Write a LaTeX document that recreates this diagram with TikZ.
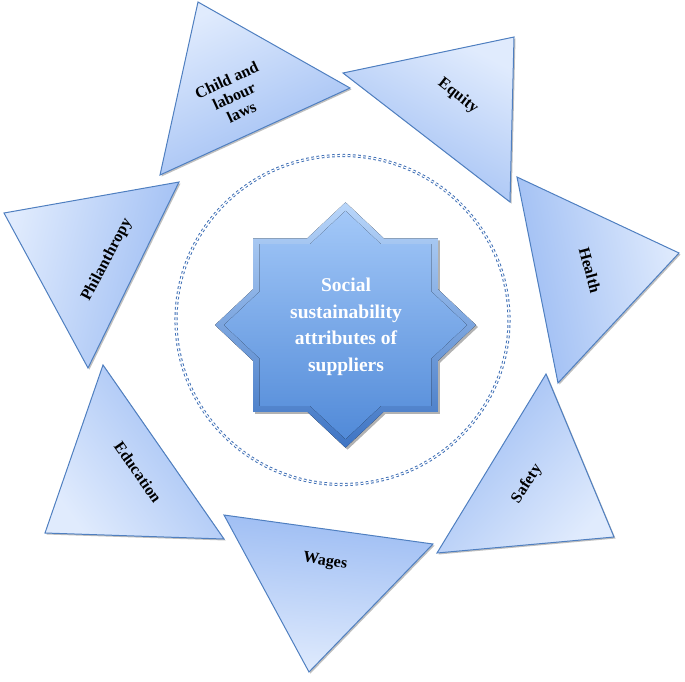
\documentclass[tikz,border=0pt]{standalone}
\usepackage{fontspec}
\setmainfont{Liberation Serif}
\usetikzlibrary{shadows}
\definecolor{tribord}{HTML}{4F7FC0}
\definecolor{trilight}{HTML}{E0EBFD}
\definecolor{tridark}{HTML}{9CBCF3}
\definecolor{circblue}{HTML}{3F6FB5}
\definecolor{starlt}{HTML}{B9D6FA}
\definecolor{stardk}{HTML}{3E74C3}
\definecolor{starinlt}{HTML}{A3C8F8}
\definecolor{starindk}{HTML}{518AD8}
\begin{document}
\begin{tikzpicture}[x=1pt,y=-1pt,
  tri/.style={draw=tribord, line width=1pt, line join=miter, top color=trilight, bottom color=tridark,
    drop shadow={shadow xshift=1.5pt, shadow yshift=-1.5pt, opacity=0.25, fill=black}},
  lbl/.style={font=\bfseries\fontsize{16}{17.5}\selectfont, align=center, text=black, inner sep=0pt},
  startext/.style={font=\bfseries\fontsize{19.5}{26.5}\selectfont, align=center, text=white, inner sep=0pt},
  ring/.style={draw=circblue, line width=1pt, double=white, double distance=1.1pt, dash pattern=on 2.6pt off 2.6pt}
]
\useasboundingbox (0,0) rectangle (685,681);

% dashed double ring
\draw[ring] (342.5,320) ellipse (166.5 and 164.5);

% triangles
\coordinate (c1) at (198,2);   \coordinate (c2) at (160,175); \coordinate (c3) at (350,88);
\coordinate (e1) at (343,73);  \coordinate (e2) at (514,37);  \coordinate (e3) at (510,202);
\coordinate (h1) at (517,177); \coordinate (h2) at (679,253); \coordinate (h3) at (558,383);
\coordinate (s1) at (546,374); \coordinate (s2) at (614,537); \coordinate (s3) at (437,553);
\coordinate (w1) at (224,515); \coordinate (w2) at (433,544); \coordinate (w3) at (309,672);
\coordinate (d1) at (103,365); \coordinate (d2) at (224,539); \coordinate (d3) at (45,533);
\coordinate (p1) at (4,213);   \coordinate (p2) at (179,182); \coordinate (p3) at (88,368);

\path[tri, shading angle=25]   (c1) -- (c3) -- (c2) -- cycle;
\path[tri, shading angle=-28]  (e1) -- (e2) -- (e3) -- cycle;
\path[tri, shading angle=-79]  (h1) -- (h2) -- (h3) -- cycle;
\path[tri, shading angle=-132] (s1) -- (s2) -- (s3) -- cycle;
\path[tri, shading angle=175]  (w1) -- (w2) -- (w3) -- cycle;
\path[tri, shading angle=126]  (d1) -- (d2) -- (d3) -- cycle;
\path[tri, shading angle=76]   (p1) -- (p2) -- (p3) -- cycle;

% labels
\node[lbl, rotate=25]  (tchild) at (234,96)  {Child and\\labour\\laws};
\node[lbl, rotate=-38] (tequity) at (458,96) {Equity};
\node[lbl, rotate=-75] (thealth) at (590,270) {Health};
\node[lbl, rotate=57]  (tsafety) at (527,484) {Safety};
\node[lbl, rotate=-9]  (twages) at (325,562) {Wages};
\node[lbl, rotate=-55] (tedu) at (138,472) {Education};
\node[lbl, rotate=62]  (tphil) at (107,260) {Philanthropy};

% central star
\begin{scope}[shift={(345.5,325)}, yscale=0.94]
  \fill[top color=starlt, bottom color=stardk,
    drop shadow={shadow xshift=2pt, shadow yshift=-2pt, opacity=0.3, fill=black}]
    (90:130.5) \foreach \a in {67.5,22.5,...,-247.5}{ -- (\a:99.9) -- ({\a-22.5}:130.5)} -- cycle;
  \fill[top color=starinlt, bottom color=starindk]
    (90:121.5) \foreach \a in {67.5,22.5,...,-247.5}{ -- (\a:93) -- ({\a-22.5}:121.5)} -- cycle;
\end{scope}
\node[startext] (core) at (346,327) {Social\\sustainability\\attributes of\\suppliers};
\end{tikzpicture}
\end{document}
